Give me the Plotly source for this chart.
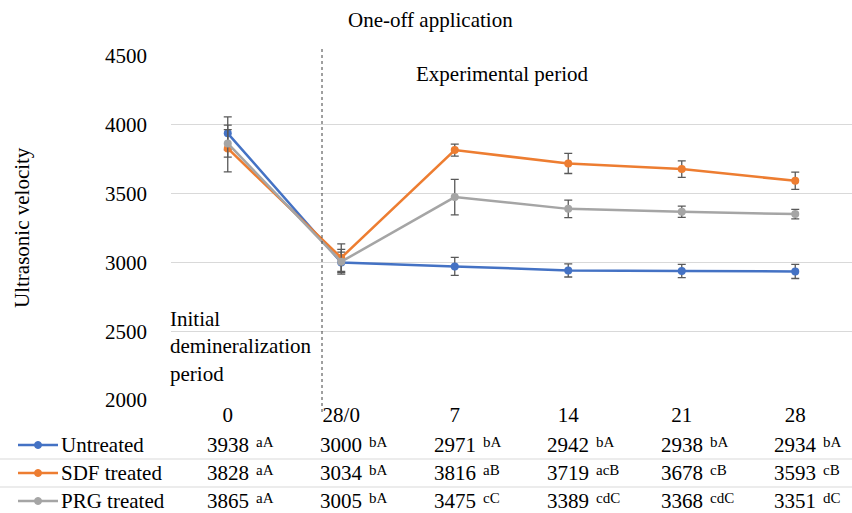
import plotly.graph_objects as go

categories = ["0", "28/0", "7", "14", "21", "28"]
series_names = ["Untreated", "SDF treated", "PRG treated"]
untreated = [3938, 3000, 2971, 2942, 2938, 2934]
sdf = [3828, 3034, 3816, 3719, 3678, 3593]
prg = [3865, 3005, 3475, 3389, 3368, 3351]
untreated_err = [120, 75, 65, 48, 48, 51]
sdf_err = [170, 100, 44, 73, 60, 63]
prg_err = [100, 90, 129, 63, 41, 34]
untreated_codes = ["aA", "bA", "bA", "bA", "bA", "bA"]
sdf_codes = ["aA", "bA", "aB", "acB", "cB", "cB"]
prg_codes = ["aA", "bA", "cC", "cdC", "cdC", "dC"]
y_ticks = [2000, 2500, 3000, 3500, 4000, 4500]

colors = ["#4472C4", "#ED7D31", "#A5A5A5"]
values = [untreated, sdf, prg]
errs = [untreated_err, sdf_err, prg_err]
codes = [untreated_codes, sdf_codes, prg_codes]

FONT = "Liberation Serif"
FS = 21
L, R, T, B = 171, 0, 56, 113
W, H = 852, 513
pw = W - L - R
ph = H - T - B

def px(xpix):
    return (xpix - L) / pw

def py(ypix):
    return (H - B - ypix) / ph

fig = go.Figure()
for name, vals, err, col in zip(series_names, values, errs, colors):
    fig.add_trace(go.Scatter(
        x=categories, y=vals, name=name, mode="lines+markers",
        line=dict(color=col, width=2.5),
        marker=dict(color=col, size=8),
        error_y=dict(type="data", array=err, visible=True, color="#595959",
                     thickness=1.3, width=4),
        showlegend=False,
    ))

annotations = []
shapes = []

row_y = [445, 473, 501]
for i, (name, vals, cds, col) in enumerate(zip(series_names, values, codes, colors)):
    yy = py(row_y[i])
    shapes.append(dict(type="line", xref="paper", yref="paper",
                       x0=px(18), x1=px(58), y0=yy, y1=yy,
                       line=dict(color=col, width=2.5)))
    shapes.append(dict(type="circle", xref="paper", yref="paper",
                       xsizemode="pixel", ysizemode="pixel",
                       xanchor=px(38), yanchor=yy, x0=-3.5, x1=3.5, y0=-3.5, y1=3.5,
                       fillcolor=col, line=dict(color=col, width=1)))
    annotations.append(dict(text=name, xref="paper", yref="paper", x=px(59), y=yy,
                            xanchor="left", yanchor="middle", showarrow=False,
                            font=dict(family=FONT, size=FS, color="#000")))
    for ci, (v, cd) in enumerate(zip(vals, cds)):
        annotations.append(dict(text=str(v), xref="x", yref="paper", x=ci, y=yy,
                                xanchor="center", yanchor="middle", showarrow=False,
                                font=dict(family=FONT, size=FS, color="#000")))
        annotations.append(dict(text=cd, xref="x", yref="paper", x=ci, y=yy,
                                xanchor="left", yanchor="middle", showarrow=False,
                                xshift=26, yshift=3,
                                font=dict(family=FONT, size=15, color="#000")))

for ysep in [459, 487]:
    shapes.append(dict(type="line", xref="paper", yref="paper",
                       x0=px(0), x1=1, y0=py(ysep), y1=py(ysep),
                       line=dict(color="#D9D9D9", width=1)))

shapes.append(dict(type="line", xref="paper", yref="paper",
                   x0=px(322), x1=px(322), y0=py(412), y1=py(47),
                   line=dict(color="#404040", width=1, dash="dot")))

annotations += [
    dict(text="One-off application", xref="paper", yref="paper", x=px(430), y=py(20),
         xanchor="center", yanchor="middle", showarrow=False,
         font=dict(family=FONT, size=FS, color="#000")),
    dict(text="Experimental period", xref="paper", yref="paper", x=px(502), y=py(74),
         xanchor="center", yanchor="middle", showarrow=False,
         font=dict(family=FONT, size=FS, color="#000")),
    dict(text="Initial<br>demineralization<br>period", xref="paper", yref="paper",
         x=px(168), y=py(346), xanchor="left", yanchor="middle", align="left",
         showarrow=False, font=dict(family=FONT, size=FS, color="#000")),
    dict(text="Ultrasonic velocity", xref="paper", yref="paper", x=px(22), y=py(228),
         xanchor="center", yanchor="middle", textangle=-90, showarrow=False,
         font=dict(family=FONT, size=FS, color="#000")),
]

fig.update_layout(
    width=W, height=H,
    margin=dict(l=L, r=R, t=T, b=B),
    paper_bgcolor="white", plot_bgcolor="white",
    font=dict(family=FONT, size=FS, color="#000"),
    annotations=annotations, shapes=shapes,
    showlegend=False,
)
fig.update_xaxes(type="category", categoryorder="array", categoryarray=categories,
                 range=[-0.5, len(categories) - 0.5],
                 showgrid=False, showline=False, zeroline=False,
                 tickfont=dict(family=FONT, size=FS, color="#000"), ticklabelstandoff=0)
fig.update_yaxes(range=[2000, 4500], tickvals=y_ticks, showgrid=True,
                 gridcolor="#D9D9D9", gridwidth=1, zeroline=False, showline=False,
                 tickfont=dict(family=FONT, size=FS, color="#000"), ticklabelstandoff=23)

fig.write_html("out.html", config={"displayModeBar": False},
               post_script="document.body.style.margin='0px';")
